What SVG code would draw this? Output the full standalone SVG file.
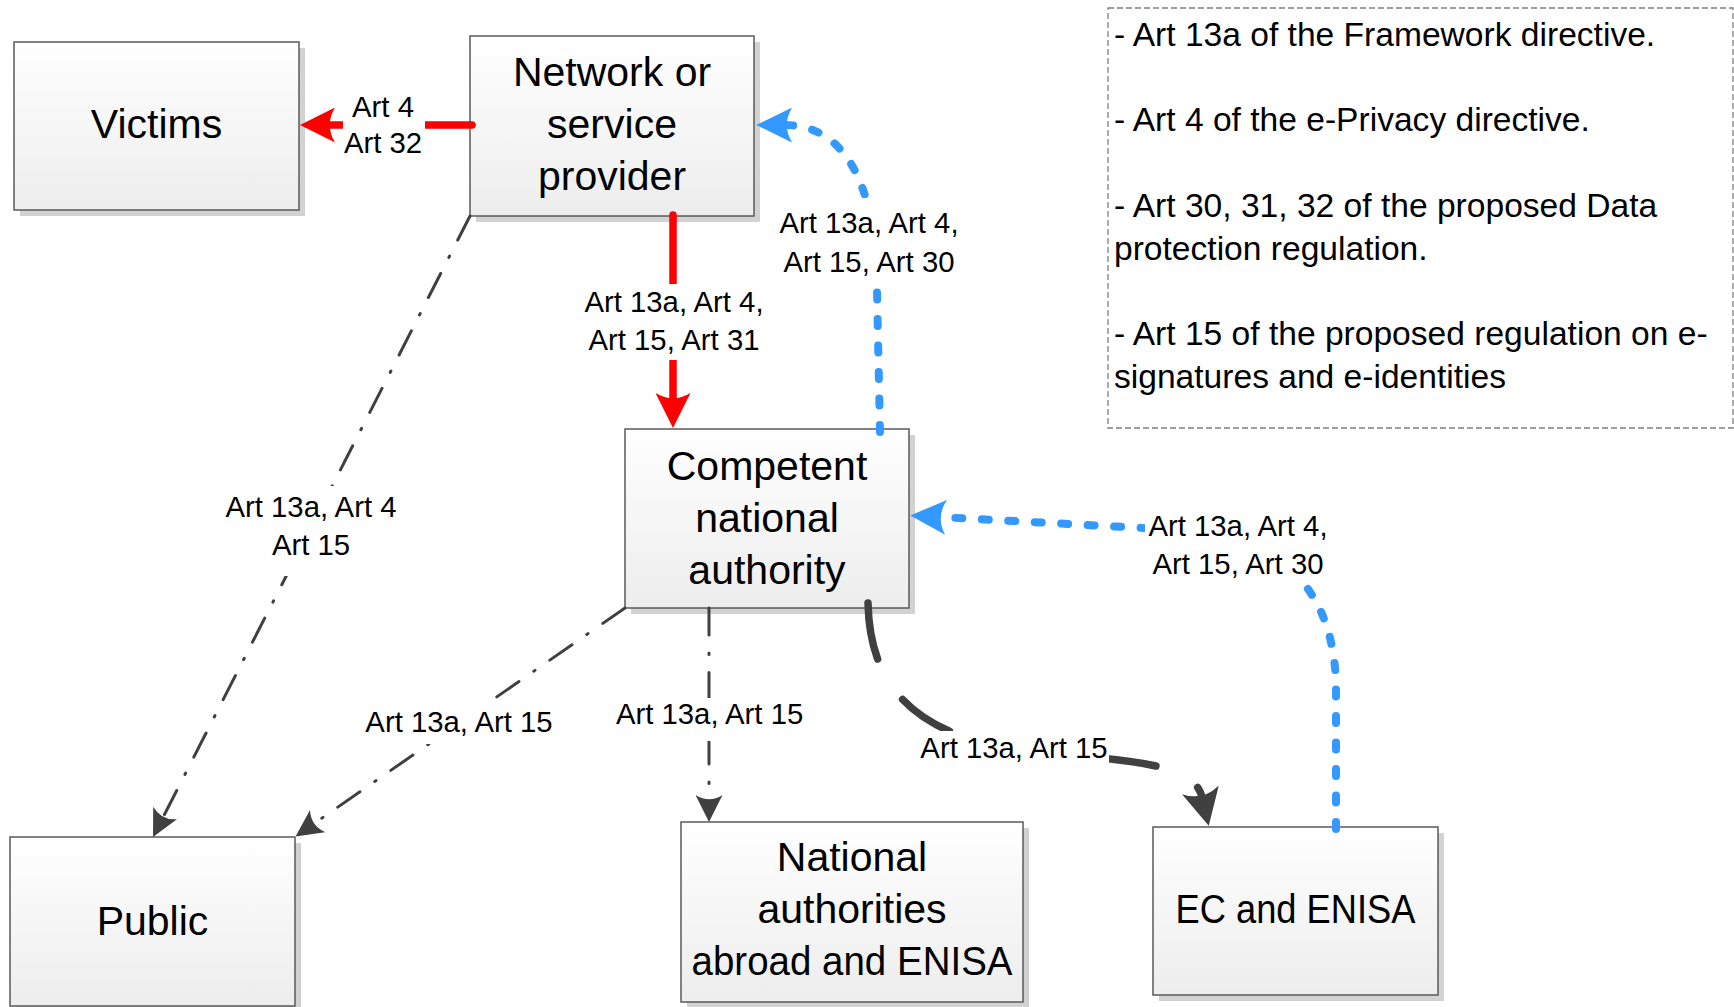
<svg xmlns="http://www.w3.org/2000/svg" width="1734" height="1007" viewBox="0 0 1734 1007">
  <defs>
    <linearGradient id="boxFill" x1="0" y1="0" x2="0" y2="1">
      <stop offset="0" stop-color="#FFFFFF"/>
      <stop offset="1" stop-color="#EDEDED"/>
    </linearGradient>
    <!-- notched arrowheads, tip at x=10; the line ends just inside the notch -->
    <marker id="headRed" viewBox="0 0 10 10" markerUnits="userSpaceOnUse" markerWidth="35" markerHeight="35" refX="2" refY="5" orient="auto" preserveAspectRatio="none">
      <path d="M10,5 L0,0 Q3,5 0,10 Z" fill="#FF0000"/>
    </marker>
    <marker id="headBlue" viewBox="0 0 10 10" markerUnits="userSpaceOnUse" markerWidth="36" markerHeight="35" refX="2" refY="5" orient="auto" preserveAspectRatio="none">
      <path d="M10,5 L0,0 Q3,5 0,10 Z" fill="#3399FF"/>
    </marker>
    <marker id="headDark" viewBox="0 0 10 10" markerUnits="userSpaceOnUse" markerWidth="37" markerHeight="38" refX="2" refY="5" orient="auto" preserveAspectRatio="none">
      <path d="M10,5 L0,0 Q3.2,5 0,10 Z" fill="#404040"/>
    </marker>
    <marker id="headDarkSmall" viewBox="0 0 10 10" markerUnits="userSpaceOnUse" markerWidth="27" markerHeight="27" refX="2" refY="5" orient="auto" preserveAspectRatio="none">
      <path d="M10,5 L0,0 Q3.2,5 0,10 Z" fill="#404040"/>
    </marker>
  </defs>
  <style>
    .shadow { fill: #D2D2D2; }
    .box { fill: url(#boxFill); stroke: #5A5A5A; stroke-width: 1.5; }
    .node-text { font-family: "Liberation Sans", Arial, sans-serif; font-size: 41px; fill: #000000; text-anchor: middle; }
    .label { font-family: "Liberation Sans", Arial, sans-serif; font-size: 29.3px; fill: #000000; text-anchor: middle; }
    .label-bg { fill: #FFFFFF; }
    .note { fill: none; stroke: #808080; stroke-width: 1.3; stroke-dasharray: 6 3; }
    .note-text { font-family: "Liberation Sans", Arial, sans-serif; font-size: 33.6px; fill: #000000; }
    .red { fill: none; stroke: #FF0000; stroke-width: 7.5; stroke-linecap: round; }
    .blue { fill: none; stroke: #3399FF; stroke-width: 8; stroke-linecap: round; stroke-dasharray: 7 19.5; }
    .dashdot { fill: none; stroke: #404040; stroke-width: 3; stroke-linecap: round; stroke-dasharray: 27 18 1.5 18; }
    .heavy { fill: none; stroke: #404040; stroke-width: 7.5; stroke-linecap: round; stroke-dasharray: 57 48; }
  </style>

  <rect width="1734" height="1007" fill="#FFFFFF"/>

  <!-- nodes -->
  <g id="victims">
    <rect class="shadow" x="20" y="48" width="285" height="168"/>
    <rect class="box" x="14" y="42" width="285" height="168"/>
    <text class="node-text" x="156.5" y="138">Victims</text>
  </g>

  <g id="provider">
    <rect class="shadow" x="476" y="42" width="284" height="180"/>
    <rect class="box" x="470" y="36" width="284" height="180"/>
    <text class="node-text" x="612" y="86">Network or</text>
    <text class="node-text" x="612" y="138">service</text>
    <text class="node-text" x="612" y="190">provider</text>
  </g>

  <g id="authority">
    <rect class="shadow" x="631" y="435" width="284" height="179"/>
    <rect class="box" x="625" y="429" width="284" height="179"/>
    <text class="node-text" x="767" y="480">Competent</text>
    <text class="node-text" x="767" y="532">national</text>
    <text class="node-text" x="767" y="584">authority</text>
  </g>

  <g id="public">
    <rect class="shadow" x="16" y="843" width="285" height="169"/>
    <rect class="box" x="10" y="837" width="285" height="169"/>
    <text class="node-text" x="152.5" y="935">Public</text>
  </g>

  <g id="national">
    <rect class="shadow" x="687" y="828" width="342" height="180"/>
    <rect class="box" x="681" y="822" width="342" height="180"/>
    <text class="node-text" x="852" y="871">National</text>
    <text class="node-text" x="852" y="923">authorities</text>
    <text class="node-text" x="852" y="975" textLength="321" lengthAdjust="spacingAndGlyphs">abroad and ENISA</text>
  </g>

  <g id="ec-enisa">
    <rect class="shadow" x="1159" y="833" width="285" height="168"/>
    <rect class="box" x="1153" y="827" width="285" height="168"/>
    <text class="node-text" x="1295.5" y="923" textLength="240" lengthAdjust="spacingAndGlyphs">EC and ENISA</text>
  </g>

  <g id="legend">
    <rect class="note" x="1108" y="8" width="625" height="420"/>
    <text class="note-text" x="1114" y="46">- Art 13a of the Framework directive.</text>
    <text class="note-text" x="1114" y="131">- Art 4 of the e-Privacy directive.</text>
    <text class="note-text" x="1114" y="217">- Art 30, 31, 32 of the proposed Data</text>
    <text class="note-text" x="1114" y="259.5">protection regulation.</text>
    <text class="note-text" x="1114" y="345">- Art 15 of the proposed regulation on e-</text>
    <text class="note-text" x="1114" y="387.5">signatures and e-identities</text>
  </g>

  <!-- connectors -->
  <g id="connectors">
    <g id="provider-victims">
      <path class="red" d="M472,125 L328,125" marker-end="url(#headRed)"/>
      <rect class="label-bg" x="343" y="91" width="82" height="70"/>
      <text class="label" x="383" y="117">Art 4</text>
      <text class="label" x="383" y="153">Art 32</text>
    </g>

    <g id="provider-authority">
      <path class="red" d="M673,215 L673,400" marker-end="url(#headRed)"/>
      <rect class="label-bg" x="583" y="284" width="182" height="76"/>
      <text class="label" x="674" y="312">Art 13a, Art 4,</text>
      <text class="label" x="674" y="350">Art 15, Art 31</text>
    </g>

    <g id="authority-provider">
      <path class="blue" d="M880,432 L877,290 C877,185 845,125 785,125" marker-end="url(#headBlue)"/>
      <rect class="label-bg" x="778" y="198" width="182" height="88"/>
      <text class="label" x="869" y="233">Art 13a, Art 4,</text>
      <text class="label" x="869" y="272">Art 15, Art 30</text>
    </g>

    <g id="ec-authority">
      <path class="blue" d="M1336,829 L1336,690 C1336,600 1290,535 1180,530 L939,517" marker-end="url(#headBlue)"/>
      <rect class="label-bg" x="1145" y="510" width="186" height="72"/>
      <text class="label" x="1238" y="536">Art 13a, Art 4,</text>
      <text class="label" x="1238" y="574">Art 15, Art 30</text>
    </g>

    <g id="provider-public">
      <path class="dashdot" d="M470,216 L162.8,817.8" marker-end="url(#headDarkSmall)"/>
      <rect class="label-bg" x="224" y="486" width="174" height="90"/>
      <text class="label" x="311" y="517">Art 13a, Art 4</text>
      <text class="label" x="311" y="555">Art 15</text>
    </g>

    <g id="authority-public">
      <path class="dashdot" d="M625,608 L313.3,824.1" marker-end="url(#headDarkSmall)"/>
      <rect class="label-bg" x="364" y="704" width="190" height="40"/>
      <text class="label" x="459" y="732">Art 13a, Art 15</text>
    </g>

    <g id="authority-national">
      <path class="dashdot" d="M709,608 L709,800.4" marker-end="url(#headDarkSmall)"/>
      <rect class="label-bg" x="615" y="698" width="190" height="43"/>
      <text class="label" x="709.6" y="724">Art 13a, Art 15</text>
    </g>

    <g id="authority-ec">
      <path class="heavy" d="M868,603 C870,700 930,745 1060,755 C1140,760 1195,767 1202,797" marker-end="url(#headDark)"/>
      <rect class="label-bg" x="919" y="731" width="190" height="40"/>
      <text class="label" x="1014" y="758">Art 13a, Art 15</text>
    </g>
  </g>
</svg>
